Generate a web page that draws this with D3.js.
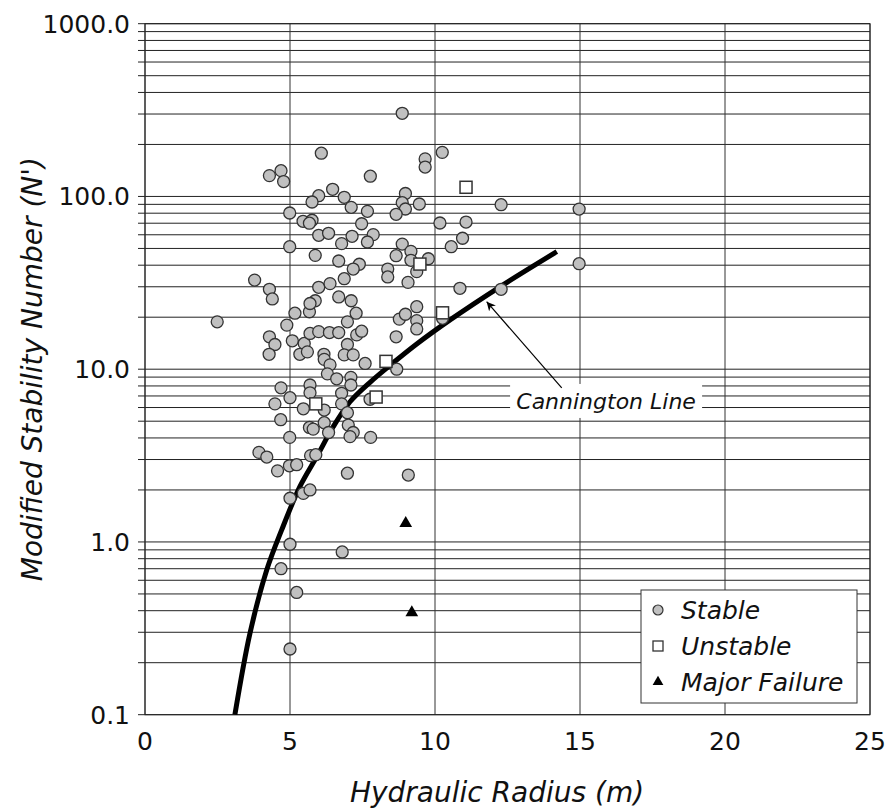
<!DOCTYPE html>
<html>
<head>
<meta charset="utf-8">
<script src="https://cdn.jsdelivr.net/npm/d3@7"></script>
<style>
  body { margin: 0; background: #fff; }
  text { font-family: "DejaVu Sans", sans-serif; fill: #111; }
</style>
</head>
<body>
<div id="chart"></div>
<script>
// chart size and plot area
var W = 890, H = 812;
var margin = {top: 23.7, right: 20, bottom: 97.3, left: 145},
    width = W - margin.left - margin.right,
    height = H - margin.top - margin.bottom;

// Stable cases [hydraulic radius, N']
var stable = [
  [8.87,303],[6.08,178],[10.25,180],[9.66,165],[9.66,148],[4.29,132],[4.69,141],[4.78,122],
  [7.77,131],[12.28,89.6],[6.47,110],[5.99,101],[5.76,92.9],[6.87,98.9],[7.11,86.5],[7.67,82],
  [8.98,104],[8.87,92],[8.98,84.6],[8.66,78.8],[9.46,90.4],[4.99,80.2],[5.45,71.8],[5.76,72.8],
  [5.67,70],[7.47,69.5],[10.17,70.2],[11.07,71.1],[5.99,59.6],[6.33,61.2],[7.14,58.8],[7.87,60.1],
  [7.67,54.5],[6.78,53.3],[4.99,51.2],[10.95,57.3],[10.56,51.2],[8.87,53],[9.17,48.1],[8.66,45.4],
  [9.77,43.6],[9.17,42.7],[9.37,36.7],[5.87,45.6],[6.68,42.3],[7.39,40.5],[7.18,38],[8.37,38],
  [8.37,34.2],[6.87,33.4],[9.07,31.8],[3.78,32.8],[4.29,29],[4.39,25.5],[5.99,29.8],[6.38,31.3],
  [10.86,29.4],[12.28,29],[6.68,26.2],[7.11,24.9],[5.87,24.9],[14.97,84.5],[14.97,40.8],[10.26,19.7],
  [2.49,18.8],[5.17,21.1],[5.67,21.5],[5.69,24],[7.28,21.1],[6.98,18.8],[4.89,18],[8.77,19.5],
  [8.98,20.8],[9.37,23],[9.37,19.1],[9.37,17.1],[4.29,15.4],[4.48,13.9],[4.28,12.2],[5.08,14.6],
  [5.49,14.1],[5.69,16.1],[5.99,16.5],[6.36,16.3],[6.68,16.3],[7.30,15.8],[7.47,16.6],[6.98,13.9],
  [8.66,15.4],[5.34,12.2],[5.60,12.6],[6.17,12.2],[6.18,11.4],[6.38,10.6],[6.87,12.1],[7.18,12.1],
  [7.59,10.8],[8.68,10],[6.29,9.4],[6.61,8.8],[7.10,8.97],[7.10,8.1],[4.69,7.8],[5.69,8.1],
  [5.69,7.3],[6.78,7.25],[5.0,6.84],[4.48,6.3],[6.78,6.3],[5.46,5.9],[6.18,5.8],[6.98,5.6],
  [7.76,6.7],[4.68,5.1],[6.18,4.9],[5.67,4.6],[5.80,4.5],[6.33,4.3],[7.01,4.75],[7.18,4.3],
  [7.07,4.07],[7.78,4.03],[4.99,4.03],[3.93,3.3],[4.20,3.1],[4.57,2.58],[4.98,2.76],[5.23,2.8],
  [5.71,3.16],[5.89,3.2],[6.98,2.5],[9.08,2.44],[5.0,1.79],[5.46,1.91],[5.69,2.0],
  [5.0,0.97],[6.80,0.875],[4.69,0.70],[5.23,0.51],[5.0,0.24]
];

// Unstable cases
var unstable = [[11.07,113],[9.48,40.6],[10.26,21.2],[8.31,11.1],[7.97,6.9],[5.89,6.3]];

// Major failure cases
var majorFailure = [[8.99,1.28],[9.20,0.39]];

// Cannington line, points
var canningtonHR = [3.1, 3.62, 4.2, 4.71, 5.34, 5.92, 6.49, 7.07, 7.76, 8.56, 9.37, 10.52, 12.24, 14.2];
var canningtonN  = [0.1, 0.296, 0.69, 1.17, 2.09, 3.11, 4.64, 6.48, 8.4, 10.9, 14.0, 19.3, 30.0, 47.9];

var xTicks = [0, 5, 10, 15, 20, 25];
var yTicks = [0.1, 1, 10, 100, 1000];

var svg = d3.select("#chart")
    .append("svg")
    .attr("width", W)
    .attr("height", H)
  .append("g")
    .attr("transform", "translate(" + margin.left + "," + margin.top + ")");

var x = d3.scaleLinear().domain([0, 25]).range([0, width]);
var y = d3.scaleLog().domain([0.1, 1000]).range([height, 0]);

// horizontal grid (every log tick) with short ticks on the left
var yGrid = y.ticks();
svg.append("g")
  .selectAll("line")
  .data(yGrid)
  .enter().append("line")
    .attr("x1", -7)
    .attr("x2", width)
    .attr("y1", function(d) { return y(d); })
    .attr("y2", function(d) { return y(d); })
    .attr("stroke", "#222")
    .attr("stroke-width", 1);

// vertical grid
svg.append("g")
  .selectAll("line")
  .data(xTicks)
  .enter().append("line")
    .attr("x1", function(d) { return x(d); })
    .attr("x2", function(d) { return x(d); })
    .attr("y1", 0)
    .attr("y2", height)
    .attr("stroke", "#333")
    .attr("stroke-width", 1);

// frame
svg.append("rect")
    .attr("width", width)
    .attr("height", height)
    .attr("fill", "none")
    .attr("stroke", "#222")
    .attr("stroke-width", 1);

// tick labels
svg.append("g")
  .selectAll("text")
  .data(yTicks)
  .enter().append("text")
    .attr("x", -15)
    .attr("y", function(d) { return y(d); })
    .attr("dy", "0.36em")
    .attr("text-anchor", "end")
    .style("font-size", "25px")
    .text(d3.format(".1f"));

svg.append("g")
  .selectAll("text")
  .data(xTicks)
  .enter().append("text")
    .attr("x", function(d) { return x(d); })
    .attr("y", height + 35)
    .attr("text-anchor", "middle")
    .style("font-size", "25px")
    .text(function(d) { return d; });

// axis titles
svg.append("text")
    .attr("x", 352)
    .attr("y", height + 87)
    .attr("text-anchor", "middle")
    .style("font-size", "28px")
    .style("font-style", "italic")
    .text("Hydraulic Radius (m)");

svg.append("text")
    .attr("transform", "rotate(-90)")
    .attr("x", -(height / 2))
    .attr("y", -103)
    .attr("text-anchor", "middle")
    .style("font-size", "28px")
    .style("font-style", "italic")
    .text("Modified Stability Number (N')");

// Cannington line
var line = d3.line()
    .x(function(d) { return x(d[0]); })
    .y(function(d) { return y(d[1]); })
    .curve(d3.curveCatmullRom.alpha(0.5));

svg.append("path")
    .datum(canningtonHR.map(function(v, i) { return [v, canningtonN[i]]; }))
    .attr("d", line)
    .attr("fill", "none")
    .attr("stroke", "#000")
    .attr("stroke-width", 5);

// label box + arrow
var lab = {x: x(15.9), y: y(6.55)};
svg.append("rect")
    .attr("x", lab.x - 96)
    .attr("y", lab.y - 17)
    .attr("width", 192)
    .attr("height", 34)
    .attr("fill", "#fff");
svg.append("text")
    .attr("x", lab.x)
    .attr("y", lab.y)
    .attr("dy", "0.35em")
    .attr("text-anchor", "middle")
    .style("font-size", "22px")
    .style("font-style", "italic")
    .text("Cannington Line");

svg.append("defs").append("marker")
    .attr("id", "arrow")
    .attr("viewBox", "0 0 10 10")
    .attr("refX", 10)
    .attr("refY", 5)
    .attr("markerWidth", 9)
    .attr("markerHeight", 9)
    .attr("markerUnits", "userSpaceOnUse")
    .attr("orient", "auto")
  .append("path")
    .attr("d", "M0,0 L10,5 L0,10 L3,5 Z")
    .attr("fill", "#000");

svg.append("line")
    .attr("x1", x(14.37))
    .attr("y1", y(7.8))
    .attr("x2", x(11.78))
    .attr("y2", y(24.6))
    .attr("stroke", "#000")
    .attr("stroke-width", 1.2)
    .attr("marker-end", "url(#arrow)");

// points
svg.append("g")
  .selectAll("circle")
  .data(stable)
  .enter().append("circle")
    .attr("cx", function(d) { return x(d[0]); })
    .attr("cy", function(d) { return y(d[1]); })
    .attr("r", 6)
    .attr("fill", "#c0c0c0")
    .attr("stroke", "#333")
    .attr("stroke-width", 1.3);

svg.append("g")
  .selectAll("rect")
  .data(unstable)
  .enter().append("rect")
    .attr("x", function(d) { return x(d[0]) - 6; })
    .attr("y", function(d) { return y(d[1]) - 6; })
    .attr("width", 12)
    .attr("height", 12)
    .attr("fill", "#fff")
    .attr("stroke", "#333")
    .attr("stroke-width", 1.5);

var tri = d3.symbol().type(d3.symbolTriangle).size(70);
svg.append("g")
  .selectAll("path")
  .data(majorFailure)
  .enter().append("path")
    .attr("transform", function(d) { return "translate(" + x(d[0]) + "," + y(d[1]) + ")"; })
    .attr("d", tri)
    .attr("fill", "#000");

// legend
var legend = svg.append("g")
    .attr("transform", "translate(" + (641 - margin.left) + "," + (590 - margin.top) + ")");
legend.append("rect")
    .attr("width", 216)
    .attr("height", 113)
    .attr("fill", "#fff")
    .attr("stroke", "#333")
    .attr("stroke-width", 1);

var items = ["Stable", "Unstable", "Major Failure"];
items.forEach(function(name, i) {
  var cy = 20 + i * 36;
  if (i === 0) {
    legend.append("circle").attr("cx", 17).attr("cy", cy)
      .attr("r", 5).attr("fill", "#c0c0c0").attr("stroke", "#333").attr("stroke-width", 1.2);
  } else if (i === 1) {
    legend.append("rect").attr("x", 12).attr("y", cy - 5).attr("width", 10).attr("height", 10)
      .attr("fill", "#fff").attr("stroke", "#333").attr("stroke-width", 1.3);
  } else {
    legend.append("path").attr("transform", "translate(17," + cy + ")")
      .attr("d", d3.symbol().type(d3.symbolTriangle).size(50)).attr("fill", "#000");
  }
  legend.append("text")
    .attr("x", 40)
    .attr("y", cy)
    .attr("dy", "0.36em")
    .style("font-size", "25px")
    .style("font-style", "italic")
    .text(name);
});
</script>
</body>
</html>
